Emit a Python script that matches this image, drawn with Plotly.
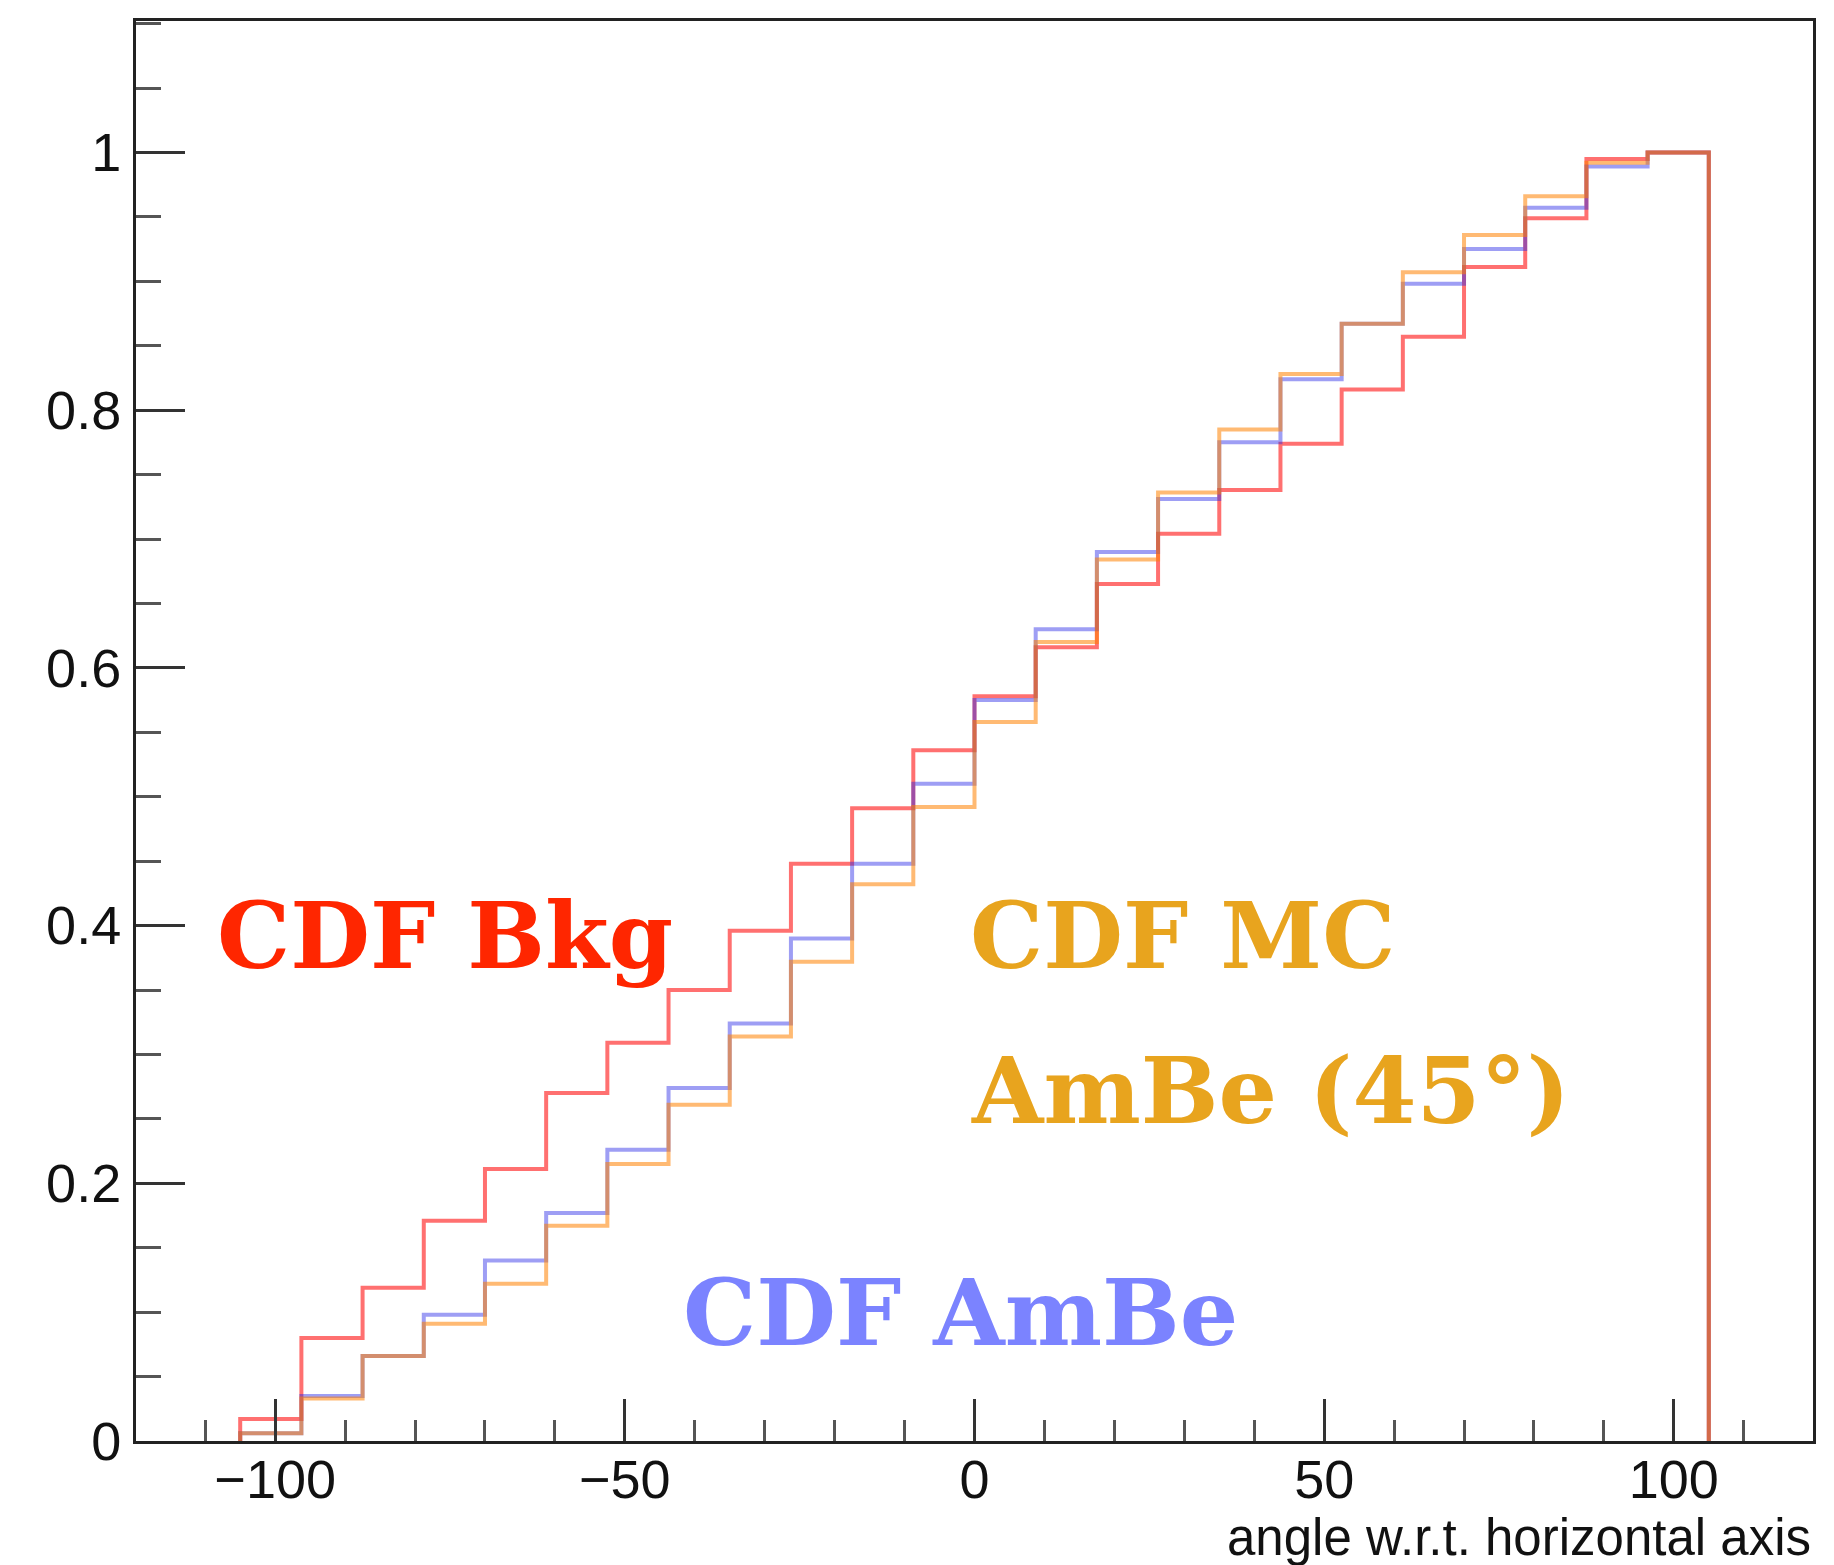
import numpy as np
import plotly.graph_objects as go

# ---- data ----
bin_lo, bin_hi, n_bins = -105.0, 105.0, 24
cdf_bkg = [0.017, 0.080, 0.119, 0.171, 0.211, 0.270, 0.309, 0.350, 0.396, 0.448, 0.491, 0.536,
           0.578, 0.616, 0.665, 0.704, 0.738, 0.774, 0.816, 0.857, 0.911, 0.949, 0.995, 1.000]
cdf_ambe = [0.006, 0.035, 0.066, 0.098, 0.140, 0.177, 0.226, 0.274, 0.324, 0.390, 0.448, 0.510,
            0.575, 0.630, 0.690, 0.731, 0.775, 0.824, 0.867, 0.898, 0.925, 0.957, 0.989, 1.000]
cdf_mc = [0.006, 0.033, 0.066, 0.091, 0.122, 0.167, 0.215, 0.261, 0.314, 0.372, 0.432, 0.492,
          0.558, 0.620, 0.684, 0.736, 0.785, 0.828, 0.867, 0.907, 0.936, 0.966, 0.992, 1.000]
x_title = "angle w.r.t. horizontal axis"
label_bkg = "CDF Bkg"
label_mc1 = "CDF MC"
label_mc2 = "AmBe (45°)"
label_ambe = "CDF AmBe"

edges = np.linspace(bin_lo, bin_hi, n_bins + 1)


def step_xy(vals):
    xs = [edges[0]] + list(edges[:-1]) + [edges[-1], edges[-1]]
    ys = [0.0] + list(vals) + [vals[-1], 0.0]
    return xs, ys


fig = go.Figure()
for vals, col in [(cdf_bkg, "rgba(255,0,0,0.56)"),
                  (cdf_ambe, "rgba(40,40,230,0.45)"),
                  (cdf_mc, "rgba(255,130,0,0.55)")]:
    xs, ys = step_xy(vals)
    fig.add_trace(go.Scatter(x=xs, y=ys, mode="lines", line=dict(color=col, width=4, shape="hv"),
                             showlegend=False, hoverinfo="skip"))

tick_font = dict(family="Liberation Sans, Arial, sans-serif", size=54, color="#111")
text_font = "DejaVu Serif, serif"
fs = 92

fig.add_annotation(x=-108.6, y=0.392, xref="x", yref="y", text=f"<b>{label_bkg}</b>", showarrow=False,
                   xanchor="left", yanchor="middle", font=dict(family=text_font, size=fs, color="#ff2600"))
fig.add_annotation(x=-1.0, y=0.392, xref="x", yref="y", text=f"<b>{label_mc1}</b>", showarrow=False,
                   xanchor="left", yanchor="middle", font=dict(family=text_font, size=fs, color="#e8a41e"))
fig.add_annotation(x=-0.8, y=0.272, xref="x", yref="y", text=f"<b>{label_mc2}</b>", showarrow=False,
                   xanchor="left", yanchor="middle", font=dict(family=text_font, size=fs, color="#e8a41e"))
fig.add_annotation(x=-42.0, y=0.099, xref="x", yref="y", text=f"<b>{label_ambe}</b>", showarrow=False,
                   xanchor="left", yanchor="middle", font=dict(family=text_font, size=fs, color="#7b83ff"))
fig.add_annotation(x=1.0, y=-0.068, xref="paper", yref="paper", text=x_title, showarrow=False,
                   xanchor="right", yanchor="middle",
                   font=dict(family="Liberation Sans, Arial, sans-serif", size=51, color="#111"))

fig.update_xaxes(range=[-119.9, 119.9], showgrid=False, zeroline=False,
                 showline=True, mirror=True, linecolor="#222", linewidth=3,
                 ticks="inside", ticklen=42, tickwidth=3, tickcolor="#333",
                 tick0=0, dtick=50, tickfont=tick_font, ticklabelstandoff=-11,
                 minor=dict(ticks="inside", ticklen=21, tickwidth=3, tickcolor="#555", dtick=10, tick0=0))
fig.update_yaxes(range=[0, 1.102], showgrid=False, zeroline=False,
                 showline=True, mirror=True, linecolor="#222", linewidth=3,
                 ticks="inside", ticklen=49, tickwidth=3, tickcolor="#333",
                 tickfont=tick_font, ticklabelstandoff=1,
                 tickvals=[0, 0.2, 0.4, 0.6, 0.8, 1.0], ticktext=["0", "0.2", "0.4", "0.6", "0.8", "1"],
                 minor=dict(ticks="inside", ticklen=25, tickwidth=3, tickcolor="#555", dtick=0.05, tick0=0))

fig.update_layout(width=1826, height=1557, margin=dict(l=128, r=21, t=10, b=124),
                  plot_bgcolor="white", paper_bgcolor="white")

fig.write_html("out.html")
